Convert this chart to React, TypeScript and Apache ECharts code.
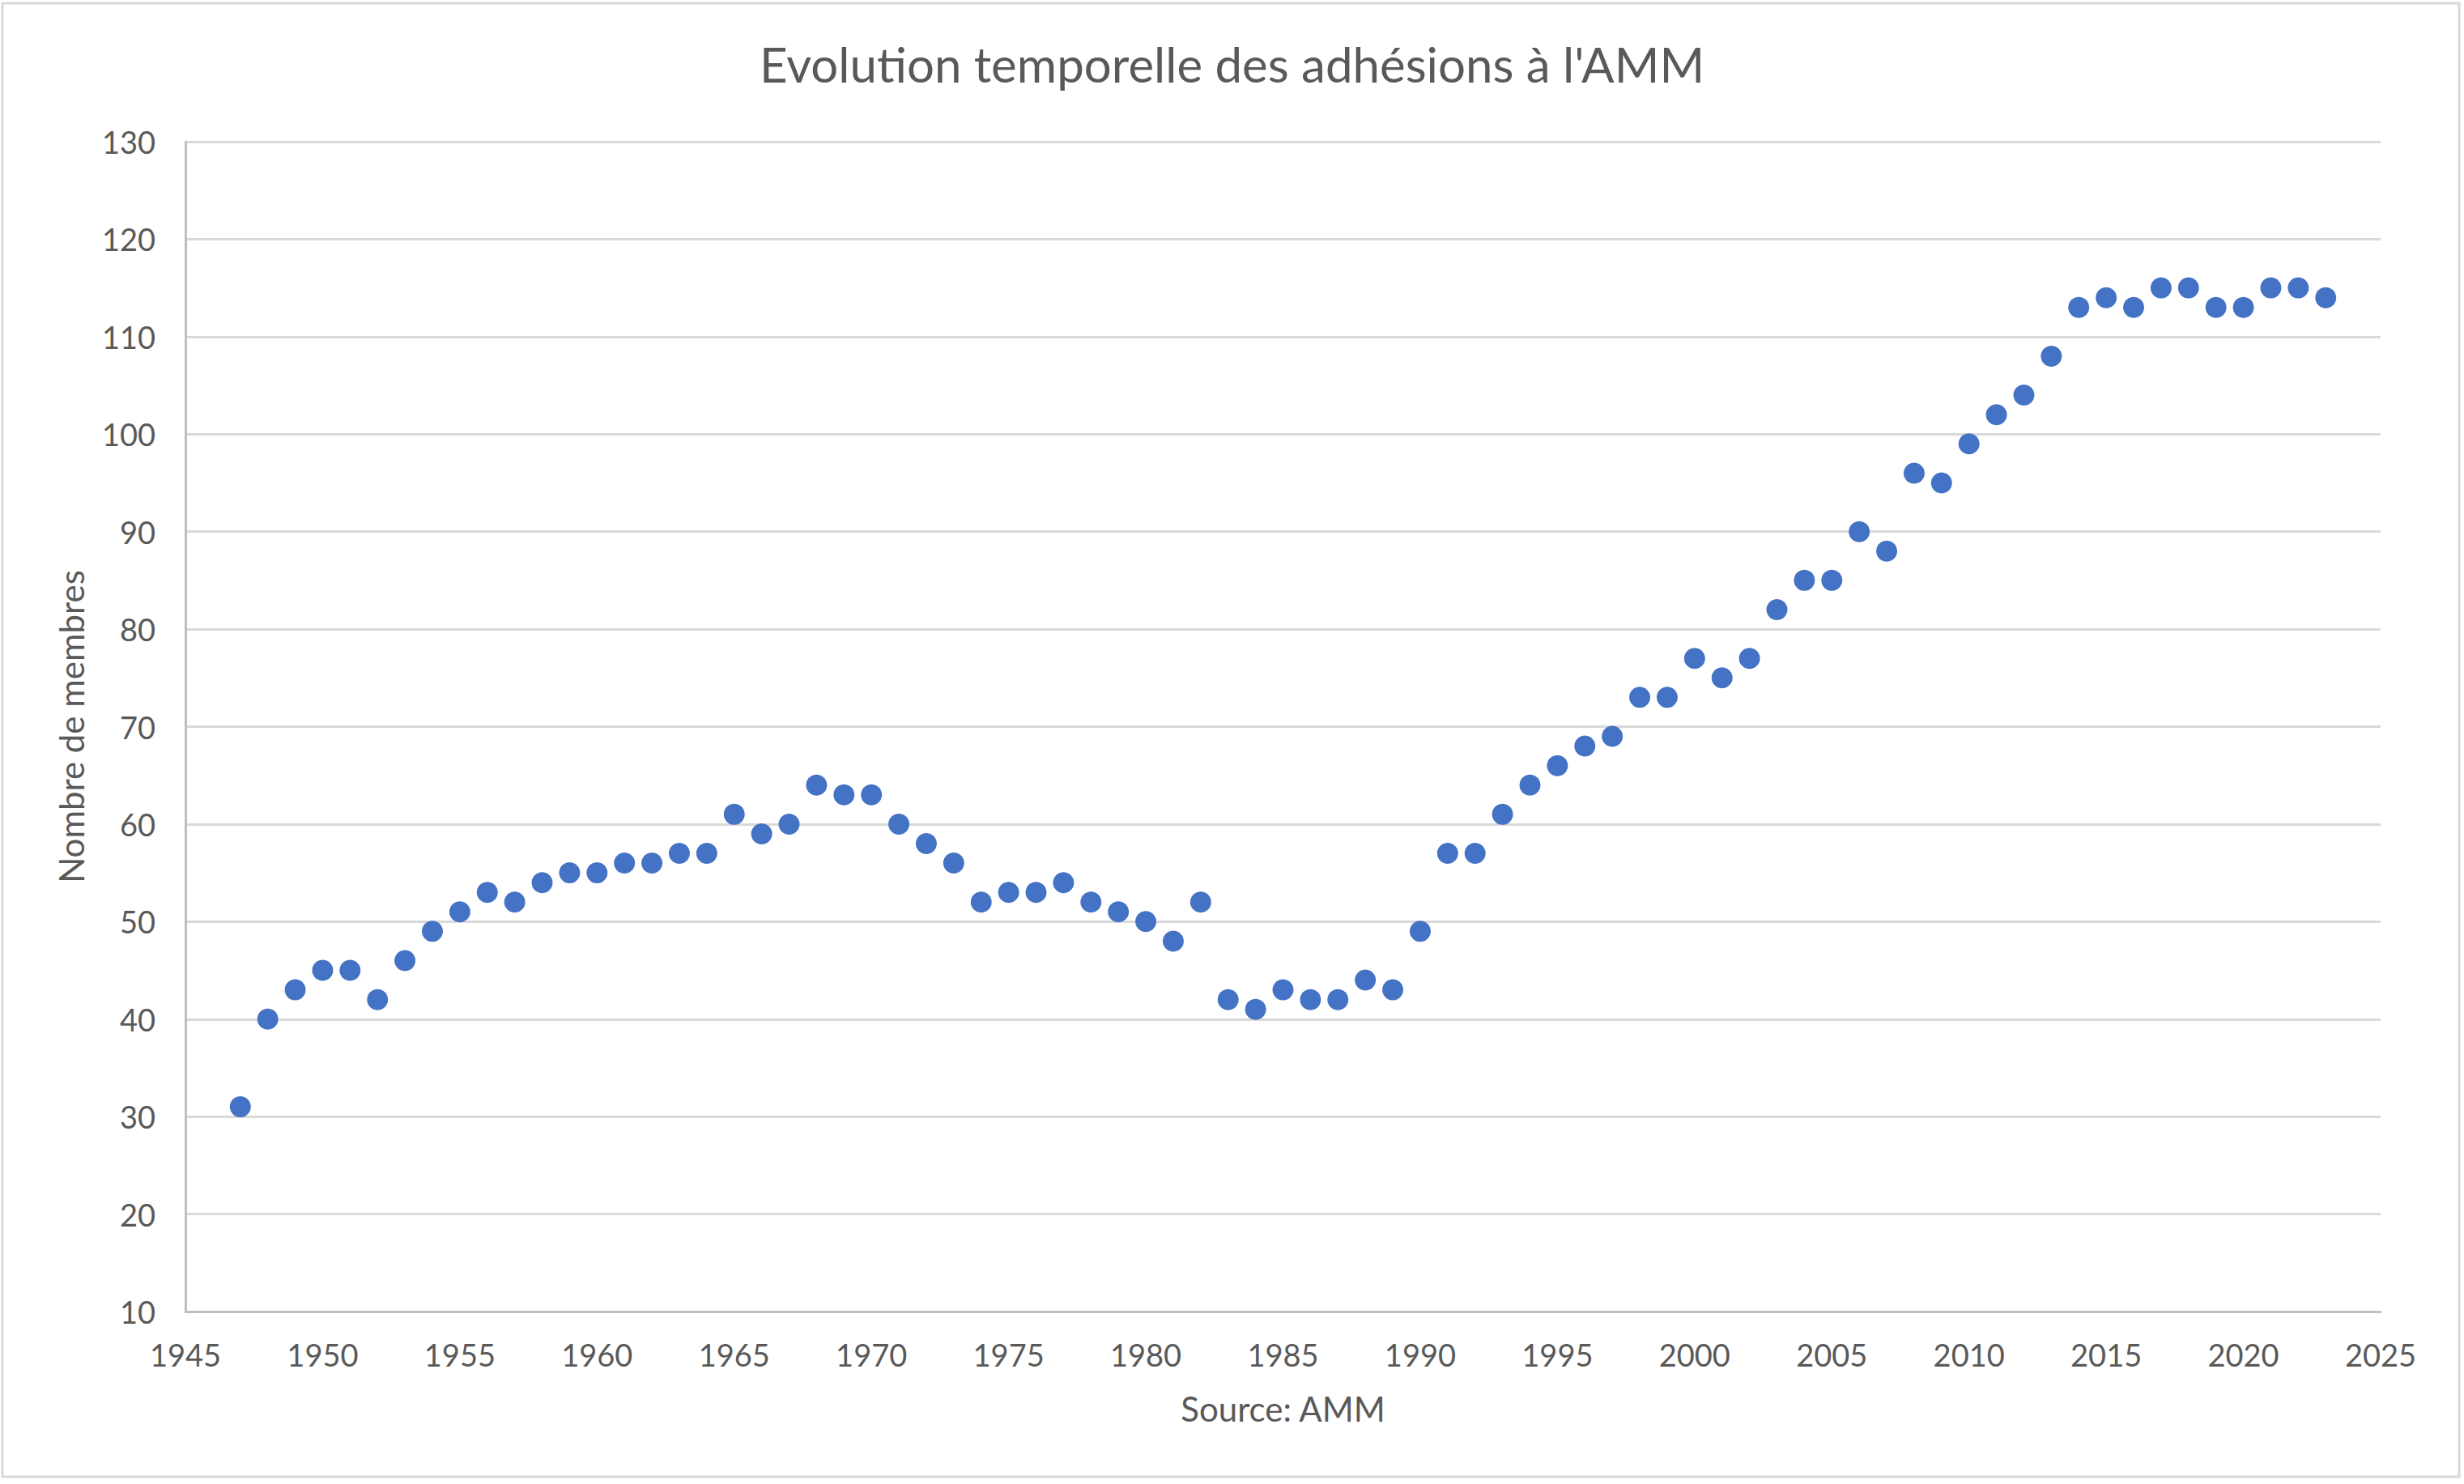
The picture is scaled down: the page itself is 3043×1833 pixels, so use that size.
import React, { useEffect, useRef } from "react";
import * as echarts from "echarts";

const TITLE = "Evolution temporelle des adhésions à l'AMM";
const Y_AXIS_TITLE = "Nombre de membres";
const X_AXIS_TITLE = "Source: AMM";

const years: number[] = [
  1947, 1948, 1949, 1950, 1951, 1952, 1953, 1954, 1955, 1956,
  1957, 1958, 1959, 1960, 1961, 1962, 1963, 1964, 1965, 1966,
  1967, 1968, 1969, 1970, 1971, 1972, 1973, 1974, 1975, 1976,
  1977, 1978, 1979, 1980, 1981, 1982, 1983, 1984, 1985, 1986,
  1987, 1988, 1989, 1990, 1991, 1992, 1993, 1994, 1995, 1996,
  1997, 1998, 1999, 2000, 2001, 2002, 2003, 2004, 2005, 2006,
  2007, 2008, 2009, 2010, 2011, 2012, 2013, 2014, 2015, 2016,
  2017, 2018, 2019, 2020, 2021, 2022, 2023,
];

const members: number[] = [
  31, 40, 43, 45, 45, 42, 46, 49, 51, 53,
  52, 54, 55, 55, 56, 56, 57, 57, 61, 59,
  60, 64, 63, 63, 60, 58, 56, 52, 53, 53,
  54, 52, 51, 50, 48, 52, 42, 41, 43, 42,
  42, 44, 43, 49, 57, 57, 61, 64, 66, 68,
  69, 73, 73, 77, 75, 77, 82, 85, 85, 90,
  88, 96, 95, 99, 102, 104, 108, 113, 114, 113,
  115, 115, 113, 113, 115, 115, 114,
];

const X_MIN = 1945;
const X_MAX = 2025;
const X_STEP = 5;
const Y_MIN = 10;
const Y_MAX = 130;
const Y_STEP = 10;

const FONT = "Lato, 'Open Sans', sans-serif";
const TEXT_COLOR = "#595959";

export default function App() {
  const ref = useRef<HTMLDivElement>(null);

  useEffect(() => {
    document.body.style.margin = "0";
    if (!ref.current) return;
    const chart = echarts.init(ref.current, undefined, { renderer: "svg" });
    const data = years.map((y, i) => [y, members[i]]);
    chart.setOption({
      animation: false,
      backgroundColor: "#ffffff",
      title: {
        text: TITLE,
        left: "center",
        top: 44,
        textStyle: {
          fontFamily: FONT,
          fontSize: 60,
          fontWeight: "normal",
          color: TEXT_COLOR,
        },
      },
      graphic: [
        {
          type: "rect",
          shape: { x: 3, y: 4, width: 3034, height: 1820 },
          style: { fill: "none", stroke: "#d9d9d9", lineWidth: 3 },
          silent: true,
          z: 0,
        },
      ],
      grid: {
        left: 229,
        right: 103,
        top: 175,
        bottom: 213,
        containLabel: false,
      },
      xAxis: {
        type: "value",
        min: X_MIN,
        max: X_MAX,
        interval: X_STEP,
        name: X_AXIS_TITLE,
        nameLocation: "middle",
        nameGap: 99,
        nameTextStyle: {
          fontFamily: FONT,
          fontSize: 42,
          color: TEXT_COLOR,
        },
        axisLine: { show: true, onZero: false, lineStyle: { color: "#bfbfbf", width: 3 } },
        axisTick: { show: false },
        splitLine: { show: false },
        axisLabel: {
          fontFamily: FONT,
          fontSize: 38,
          color: TEXT_COLOR,
          margin: 34,
          formatter: (v: number) => String(v),
        },
      },
      yAxis: {
        type: "value",
        min: Y_MIN,
        max: Y_MAX,
        interval: Y_STEP,
        name: Y_AXIS_TITLE,
        nameLocation: "middle",
        nameGap: 120,
        nameRotate: 90,
        nameTextStyle: {
          fontFamily: FONT,
          fontSize: 42,
          color: TEXT_COLOR,
        },
        axisLine: { show: true, lineStyle: { color: "#bfbfbf", width: 3 } },
        axisTick: { show: false },
        splitLine: { show: true, lineStyle: { color: "#d9d9d9", width: 3 } },
        axisLabel: {
          fontFamily: FONT,
          fontSize: 38,
          color: TEXT_COLOR,
          margin: 37,
        },
      },
      series: [
        {
          type: "scatter",
          data,
          symbol: "circle",
          symbolSize: 26,
          itemStyle: { color: "#4472C4", opacity: 1 },
        },
      ],
    });
    return () => chart.dispose();
  }, []);

  return <div ref={ref} style={{ width: 3043, height: 1833 }} />;
}
